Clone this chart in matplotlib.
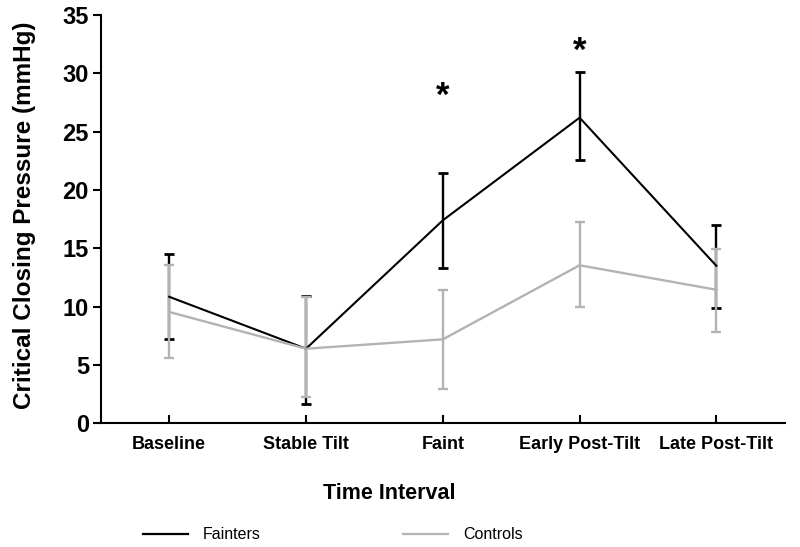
import numpy as np
import matplotlib.pyplot as plt

plt.rcParams['font.family'] = ['Liberation Sans', 'DejaVu Sans']

intervals = ["Baseline", "Stable Tilt", "Faint", "Early Post-Tilt", "Late Post-Tilt"]
fainters = [10.85, 6.4, 17.4, 26.2, 13.5]
fainters_hi = [14.5, 10.9, 21.5, 30.1, 17.0]
fainters_lo = [7.2, 1.7, 13.3, 22.6, 9.85]
controls = [9.55, 6.4, 7.2, 13.55, 11.45]
controls_hi = [13.55, 10.8, 11.45, 17.25, 14.95]
controls_lo = [5.6, 2.25, 2.95, 10.0, 7.85]
star_pos = [2, 3]
star_y = [28.0, 31.85]

x = np.arange(len(intervals))
f = np.array(fainters)
c = np.array(controls)

fig = plt.figure(figsize=(8, 5.47), dpi=100)
ax = fig.add_axes([0.126, 0.226, 0.855, 0.7466])

ax.errorbar(x, f, yerr=[f - np.array(fainters_lo), np.array(fainters_hi) - f],
            color='black', lw=1.5, capsize=3.8, capthick=2, elinewidth=1.7,
            label='Fainters')
ax.errorbar(x, c, yerr=[c - np.array(controls_lo), np.array(controls_hi) - c],
            color='#b3b3b3', lw=1.7, capsize=3.8, capthick=1.7, elinewidth=1.7,
            label='Controls')

for xs, ys in zip(star_pos, star_y):
    ax.text(xs, ys, "*", ha='center', va='center', fontsize=25, fontweight='bold')

ax.set_xlim(-0.5, 4.5)
ax.set_ylim(0, 35)
ax.set_xticks(x)
ax.set_xticklabels(intervals, fontsize=13, fontweight='bold')
ax.set_yticks(np.arange(0, 36, 5))
ax.set_yticklabels([str(v) for v in range(0, 36, 5)], fontsize=17, fontweight='bold')
ax.tick_params(axis='x', direction='in', length=6, width=1.5, pad=9)
ax.tick_params(axis='y', direction='out', length=6, width=1.5, pad=2.5)
for s in ['top', 'right']:
    ax.spines[s].set_visible(False)
for s in ['left', 'bottom']:
    ax.spines[s].set_linewidth(1.5)

ax.set_xlabel("Time Interval", fontsize=15.5, fontweight='bold')
ax.xaxis.set_label_coords(0.421, -0.146)
ax.set_ylabel("Critical Closing Pressure (mmHg)", fontsize=17.5, fontweight='bold')
ax.yaxis.set_label_coords(-0.095, 0.51)

handles = [plt.Line2D([], [], color='black', lw=1.6),
           plt.Line2D([], [], color='#b3b3b3', lw=1.6)]
fig.legend(handles, ["Fainters", "Controls"], loc='center left', bbox_to_anchor=(0.179, 0.022),
           ncol=2, frameon=False, fontsize=11.5, columnspacing=8.9, handlelength=2.8,
           handletextpad=0.95, borderpad=0, borderaxespad=0)

fig.savefig("out.png", dpi=100)
